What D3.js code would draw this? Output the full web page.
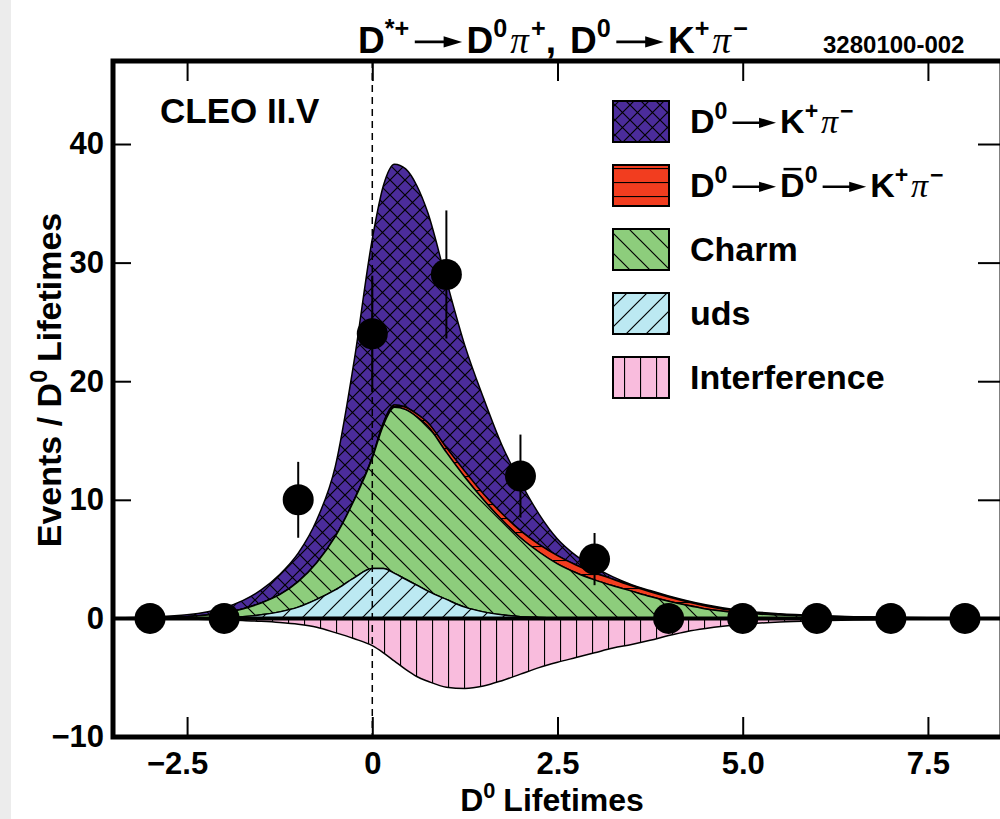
<!DOCTYPE html>
<html>
<head>
<meta charset="utf-8">
<script src="https://cdn.jsdelivr.net/npm/d3@7"></script>
<style>
body { margin: 0; background: #fff; }
text { font-family: "Liberation Sans", Arial, sans-serif; font-weight: bold; fill: #000; }
</style>
</head>
<body>
<svg id="chart" width="1000" height="819"></svg>
<script>
// sampling points of the fitted curves (D0 lifetimes)
var lifetimes = [-3.5,-3,-2.5,-2, -1.75,-1.5,-1.25,-1, -0.75,-0.5,-0.25,0, 0.15,0.3,0.45,0.6,
                 0.75,1,1.25,1.5, 1.75,2,2.25,2.5, 2.75,3,3.25,3.5, 3.75,4,4.25,4.5, 5,5.5,6,6.5, 7,7.5,8,8.5];
// fit components
var udsVals = [0,0,0.02,0.08, 0.15,0.3,0.55,0.95, 1.6,2.4,3.4,4.2, 4.2,3.8,3.3,2.8,
               2.3,1.6,0.95,0.55, 0.3,0.15,0.08,0.04, 0.02,0,0,0, 0,0,0,0, 0,0,0,0, 0,0,0,0];
var charmVals = [0.02,0.05,0.13,0.37, 0.65,1.0,1.45,2.15, 3.1,4.5,6.5,9.3, 12.1,14.0,14.3,14.2,
                 13.9,12.4,10.95,9.45, 8.0,6.65,5.52,4.56, 3.83,3.25,2.75,2.3, 1.85,1.45,1.1,0.8,
                 0.45,0.28,0.18,0.1, 0.06,0.04,0.02,0.01];
var mixingVals = [0,0,0,0, 0,0,0,0, 0,0,0.02,0.1, 0.2,0.2,0.2,0.25,
                  0.3,0.4,0.5,0.5, 0.55,0.6,0.65,0.7, 0.65,0.6,0.55,0.45, 0.4,0.35,0.3,0.25,
                  0.1,0.05,0.02,0.02, 0.01,0,0,0];
var dcsVals = [0.03,0.07,0.15,0.45, 0.7,1.1,1.7,2.4, 3.6,5.9,11.6,18.4, 20.0,20.3,20.1,19.25,
               17.7,14.1,10.6,8.1, 5.75,4.1,2.55,1.4, 0.8,0.45,0.2,0.1, 0.1,0.1,0.1,0.1,
               0.1,0.07,0.05,0.03, 0.03,0.02,0.02,0.01];
var interferenceVals = [0,-0.02,-0.05,-0.12, -0.18,-0.25,-0.35,-0.5, -0.75,-1.2,-1.7,-2.3,
                        -2.9,-3.6,-4.3,-4.9, -5.3,-5.8,-5.9,-5.7, -5.25,-4.7,-4.15,-3.7,
                        -3.3,-2.9,-2.5,-2.2, -1.85,-1.45,-1.1,-0.85, -0.5,-0.3,-0.2,-0.14,
                        -0.1,-0.06,-0.04,-0.02];

// data points
var binCenters = [-3,-2,-1,0,1,2,3,4,5,6,7,8];
var events = [0,0,10,24,29,12,5,0,0,0,0,0];
var eventErrors = [0,0,3.2,4.9,5.4,3.5,2.2,0,0,0,0,0];

var xTicks = [-2.5, 0, 2.5, 5.0, 7.5];
var yTicks = [-10, 0, 10, 20, 30, 40];

var svg = d3.select("#chart");
var _left = 113, _right = 1002, _top = 61, _bottom = 737;

var x = d3.scaleLinear().domain([-3.5, 8.5]).range([_left, _right]);
var y = d3.scaleLinear().domain([-10, 47]).range([_bottom, _top]);

svg.append("rect").attr("x", 0).attr("y", 0).attr("width", 1000).attr("height", 819).attr("fill", "#fff");
svg.append("rect").attr("x", 0).attr("y", 0).attr("width", 11).attr("height", 819).attr("fill", "#ececec");

// hatch patterns
var defs = svg.append("defs");
function hatch(id, color, w, h, d) {
    var p = defs.append("pattern").attr("id", id)
        .attr("patternUnits", "userSpaceOnUse")
        .attr("width", w).attr("height", h);
    p.append("rect").attr("width", w).attr("height", h).attr("fill", color);
    p.append("path").attr("d", d).attr("stroke", "#000").attr("stroke-width", 1.2).attr("fill", "none");
}
hatch("pDcs", "#4b2c9b", 15, 15, "M0,0L15,15M15,0L0,15M-2,13L2,17M13,-2L17,2M-2,2L2,-2M13,17L17,13");
hatch("pMix", "#f23d1f", 14, 14, "M0,0.5H14");
hatch("pCharm", "#8dcd7c", 20, 20, "M0,0L20,20M-3,17L3,23M17,-3L23,3");
hatch("pUds", "#bce9f2", 20, 20, "M0,20L20,0M-3,3L3,-3M17,23L23,17");
hatch("pInt", "#f9bcdd", 16, 16, "M0.5,0V16");

defs.append("clipPath").attr("id", "plotClip").append("rect")
    .attr("x", _left).attr("y", _top).attr("width", _right - _left).attr("height", _bottom - _top);

// build the stack from the component arrays
var table = lifetimes.map(function(t, i) {
    return { t: t, uds: udsVals[i], charm: charmVals[i], mix: mixingVals[i], dcs: dcsVals[i] };
});
var stack = d3.stack().keys(["uds", "charm", "mix", "dcs"])(table);
var fills = { uds: "url(#pUds)", charm: "url(#pCharm)", mix: "url(#pMix)", dcs: "url(#pDcs)" };

var area = d3.area()
    .x(function(d) { return x(d.data.t); })
    .y0(function(d) { return y(d[0]); })
    .y1(function(d) { return y(d[1]); })
    .curve(d3.curveMonotoneX);

var plot = svg.append("g").attr("clip-path", "url(#plotClip)");

// interference goes below zero
var intArea = d3.area()
    .x(function(d, i) { return x(lifetimes[i]); })
    .y0(y(0))
    .y1(function(d) { return y(d); })
    .curve(d3.curveMonotoneX);
plot.append("path").datum(interferenceVals)
    .attr("d", intArea).attr("fill", "url(#pInt)")
    .attr("stroke", "#000").attr("stroke-width", 1.5);

// draw the top layers first so the lower edges stay visible
stack.slice().reverse().forEach(function(s) {
    plot.append("path").datum(s)
        .attr("d", area)
        .attr("fill", fills[s.key])
        .attr("stroke", "#000").attr("stroke-width", 1.5)
        .attr("stroke-linejoin", "round");
});

// zero line and dashed t=0 line
plot.append("line").attr("x1", _left).attr("x2", _right).attr("y1", y(0)).attr("y2", y(0))
    .attr("stroke", "#000").attr("stroke-width", 4);
plot.append("line").attr("x1", x(0)).attr("x2", x(0)).attr("y1", _top).attr("y2", _bottom)
    .attr("stroke", "#000").attr("stroke-width", 1.5).attr("stroke-dasharray", "7,5");

// data points with error bars
var pts = plot.selectAll(".pt").data(binCenters).enter().append("g");
pts.append("line")
    .attr("x1", function(d) { return x(d); }).attr("x2", function(d) { return x(d); })
    .attr("y1", function(d, i) { return y(events[i] - eventErrors[i]); })
    .attr("y2", function(d, i) { return y(events[i] + eventErrors[i]); })
    .attr("stroke", "#000").attr("stroke-width", 2);
pts.append("circle")
    .attr("cx", function(d) { return x(d); })
    .attr("cy", function(d, i) { return y(events[i]); })
    .attr("r", 15.5).attr("fill", "#000");

// axes: ticks inside the frame on all four sides
var axB = svg.append("g").attr("transform", "translate(0," + _bottom + ")")
    .call(d3.axisBottom(x).tickValues(xTicks).tickSize(-20).tickPadding(15)
        .tickFormat(function(d) { return d === 0 ? "0" : (d < 0 ? "\u2212" + Math.abs(d).toFixed(1) : d.toFixed(1)); }));
var axT = svg.append("g").attr("transform", "translate(0," + _top + ")")
    .call(d3.axisTop(x).tickValues(xTicks).tickSize(-20).tickFormat(""));
var axL = svg.append("g").attr("transform", "translate(" + _left + ",0)")
    .call(d3.axisLeft(y).tickValues(yTicks).tickSize(-18).tickPadding(9)
        .tickFormat(function(d) { return d < 0 ? "\u2212" + Math.abs(d) : d; }));
var axR = svg.append("g").attr("transform", "translate(" + _right + ",0)")
    .call(d3.axisRight(y).tickValues(yTicks).tickSize(-24).tickFormat(""));
[axB, axT, axL, axR].forEach(function(a) {
    a.select(".domain").remove();
    a.selectAll(".tick line").attr("stroke", "#000").attr("stroke-width", 2);
    a.selectAll("text").attr("font-family", null).attr("font-size", null)
        .style("font-size", "31px");
});
// negative labels: the digits sit on the tick, the minus hangs to the left
axB.selectAll(".tick text").filter(function(d) { return d < 0; }).attr("dx", -10);

// frame
svg.append("rect").attr("x", _left).attr("y", _top)
    .attr("width", _right - _left).attr("height", _bottom - _top)
    .attr("fill", "none").attr("stroke", "#000").attr("stroke-width", 5);

// rich text: superscripts, pi and arrows
function richText(g, x0, y0, parts, size) {
    var cx = x0;
    parts.forEach(function(p) {
        if (p.arrow) {
            var w = size * 1.55, my = y0 - size * 0.3;
            g.append("line").attr("x1", cx + size * 0.15).attr("x2", cx + w - size * 0.3)
                .attr("y1", my).attr("y2", my).attr("stroke", "#000").attr("stroke-width", size * 0.07);
            g.append("path").attr("d", "M" + (cx + w - size * 0.62) + "," + (my - size * 0.15)
                + "L" + (cx + w - size * 0.12) + "," + my
                + "L" + (cx + w - size * 0.62) + "," + (my + size * 0.15) + "Z").attr("fill", "#000");
            cx += w;
            return;
        }
        var fs = p.sup ? size * 0.68 : size;
        if (p.pi) cx += size * 0.08;
        var t = g.append("text").attr("x", cx).attr("y", p.sup ? y0 - size * 0.42 : y0)
            .style("font-size", fs + "px").text(p.s);
        if (p.pi) t.style("font-family", "'Liberation Serif', serif").style("font-style", "italic").style("font-weight", "normal");
        var w2 = t.node().getComputedTextLength();
        if (p.bar) {
            g.append("line").attr("x1", cx + fs * 0.1).attr("x2", cx + w2 - fs * 0.1)
                .attr("y1", y0 - size * 0.82).attr("y2", y0 - size * 0.82)
                .attr("stroke", "#000").attr("stroke-width", 2.5);
        }
        cx += w2 + (p.gap || 0) + (p.pi ? size * 0.06 : 0);
    });
    return cx - x0;
}

// title, centred over the plot
var titleG = svg.append("g");
var wt = richText(titleG, 0, 53, [
    {s: "D"}, {s: "*+", sup: true}, {arrow: true}, {s: "D"}, {s: "0", sup: true},
    {s: "\u03c0", pi: true}, {s: "+", sup: true}, {s: ",", gap: 14}, {s: "D"}, {s: "0", sup: true},
    {arrow: true}, {s: "K"}, {s: "+", sup: true}, {s: "\u03c0", pi: true}, {s: "\u2212", sup: true}
], 37);
titleG.attr("transform", "translate(" + (553 - wt / 2) + ",0)");
svg.append("text").attr("x", 823).attr("y", 53).style("font-size", "24px").text("3280100-002");

svg.append("text").attr("x", 160).attr("y", 123).style("font-size", "35px").text("CLEO II.V");

// legend
var legend = [
    { fill: "url(#pDcs)", parts: [{s: "D"}, {s: "0", sup: true}, {arrow: true}, {s: "K"}, {s: "+", sup: true}, {s: "\u03c0", pi: true}, {s: "\u2212", sup: true}] },
    { fill: "url(#pMix)", parts: [{s: "D"}, {s: "0", sup: true}, {arrow: true}, {s: "D", bar: true}, {s: "0", sup: true}, {arrow: true}, {s: "K"}, {s: "+", sup: true}, {s: "\u03c0", pi: true}, {s: "\u2212", sup: true}] },
    { fill: "url(#pCharm)", parts: [{s: "Charm"}] },
    { fill: "url(#pUds)", parts: [{s: "uds"}] },
    { fill: "url(#pInt)", parts: [{s: "Interference"}] }
];
var lg = svg.append("g");
legend.forEach(function(l, i) {
    var top = 101 + i * 64;
    lg.append("rect").attr("x", 613).attr("y", top).attr("width", 56).attr("height", 41)
        .attr("fill", l.fill).attr("stroke", "#000").attr("stroke-width", 2);
    richText(lg, 690, top + 32, l.parts, 34);
});

// axis titles
var xt = svg.append("g");
var wx = richText(xt, 0, 811, [{s: "D"}, {s: "0", sup: true, gap: 8}, {s: "Lifetimes"}], 32);
xt.attr("transform", "translate(" + (552 - wx / 2) + ",0)");

var yt = svg.append("g");
var wy = richText(yt, 0, 0, [{s: "Events / D"}, {s: "0", sup: true, gap: 8}, {s: "Lifetimes"}], 34);
yt.attr("transform", "translate(61," + (380 + wy / 2) + ") rotate(-90)");
</script>
</body>
</html>
